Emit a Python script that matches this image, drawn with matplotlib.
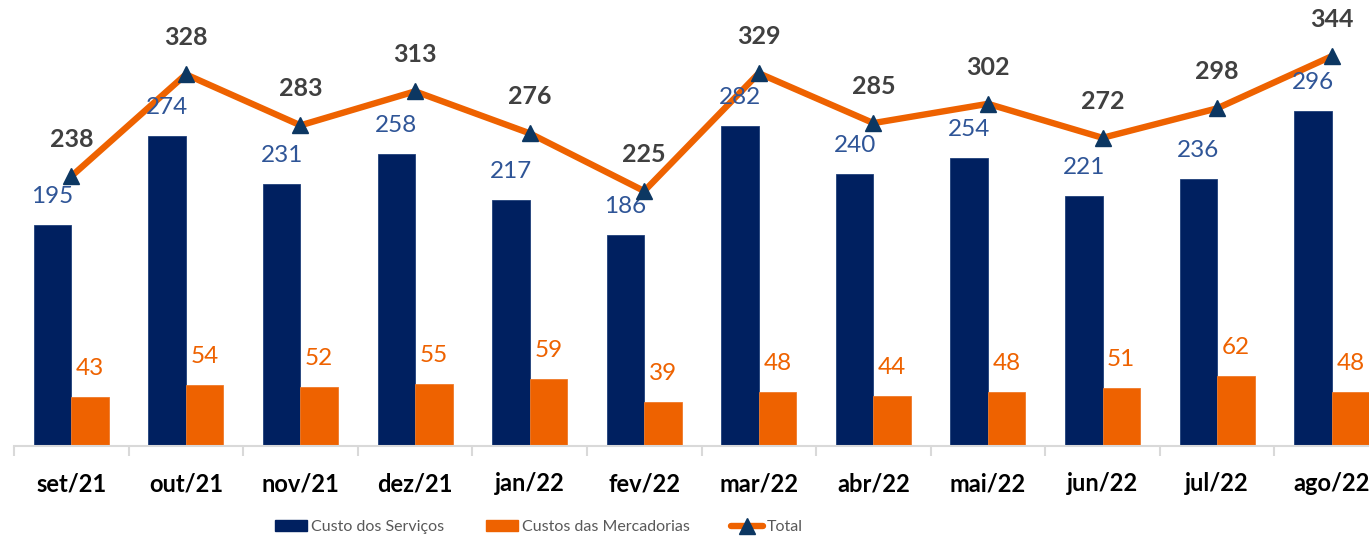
import matplotlib
matplotlib.use("Agg")
import matplotlib.pyplot as plt
from matplotlib.patches import Patch
from matplotlib.lines import Line2D
import numpy as np

categories = ["set/21", "out/21", "nov/21", "dez/21", "jan/22", "fev/22",
              "mar/22", "abr/22", "mai/22", "jun/22", "jul/22", "ago/22"]
servicos = [195, 274, 231, 258, 217, 186, 282, 240, 254, 221, 236, 296]
mercadorias = [43, 54, 52, 55, 59, 39, 48, 44, 48, 51, 62, 48]
total = [238, 328, 283, 313, 276, 225, 329, 285, 302, 272, 298, 344]

NAVY = "#002060"
ORANGE = "#EE6200"
MARKER = "#0C3762"
LBL_BLUE = "#2F5597"
DARK = "#404040"

plt.rcParams['font.family'] = ['Lato', 'DejaVu Sans']

W, H = 1369, 540
fig = plt.figure(figsize=(W / 100, H / 100), dpi=100)
ax = fig.add_axes([14 / W, 94 / H, 1375 / W, 446 / H])

x = np.arange(len(categories))
bw = 0.327
ax.bar(x - bw / 2, servicos, bw, color=NAVY, edgecolor="#1F3F7A", linewidth=0.6, zorder=2)
ax.bar(x + bw / 2, mercadorias, bw, color=ORANGE, edgecolor="#F07A2A", linewidth=0.6, zorder=2)
ax.plot(x, total, color=ORANGE, lw=4.6, zorder=3, solid_capstyle='round')
ax.plot(x, total, linestyle='none', marker='^', markersize=11, color=MARKER,
        markeredgecolor=MARKER, zorder=4)

for i in range(len(x)):
    ax.annotate(str(servicos[i]), (x[i] - bw / 2, servicos[i]), xytext=(0, 13),
                textcoords='offset points', ha='center', va='bottom',
                fontsize=17.5, color=LBL_BLUE)
    ax.annotate(str(mercadorias[i]), (x[i] + bw / 2, mercadorias[i]), xytext=(0, 13),
                textcoords='offset points', ha='center', va='bottom',
                fontsize=17.5, color=ORANGE)
    ax.annotate(str(total[i]), (x[i], total[i]), xytext=(0, 18),
                textcoords='offset points', ha='center', va='bottom',
                fontsize=18, color=DARK, fontweight='bold')

ax.set_xlim(-0.5, len(categories) - 0.5)
ax.set_ylim(0, 446 / 1.133)
ax.set_yticks([])
ax.set_xticks(x)
ax.set_xticklabels(categories, fontsize=17, fontweight='bold', color='black')
ax.tick_params(axis='x', which='major', length=0, pad=19)
ax.set_xticks(np.arange(len(categories) + 1) - 0.5, minor=True)
ax.tick_params(axis='x', which='minor', length=7, width=1.5, color='#D9D9D9')
for s in ['top', 'right', 'left']:
    ax.spines[s].set_visible(False)
ax.spines['bottom'].set_color('#D9D9D9')
ax.spines['bottom'].set_linewidth(1.5)

handles = [Patch(facecolor=NAVY, edgecolor=NAVY),
           Patch(facecolor=ORANGE, edgecolor=ORANGE),
           Line2D([0], [0], color=ORANGE, lw=4.6, marker='^', markersize=11,
                  markerfacecolor=MARKER, markeredgecolor=MARKER, solid_capstyle='round')]
labels = ["Custo dos Serviços", "Custos das Mercadorias", "Total"]
leg = fig.legend(handles, labels, loc='center', bbox_to_anchor=(539 / W, 1 - 527 / H),
                 ncol=3, frameon=False, fontsize=11.5, handlelength=2.0, handleheight=0.75,
                 handletextpad=0.25, columnspacing=2.6, labelcolor='#595959')

fig.savefig("out.png", dpi=100)
